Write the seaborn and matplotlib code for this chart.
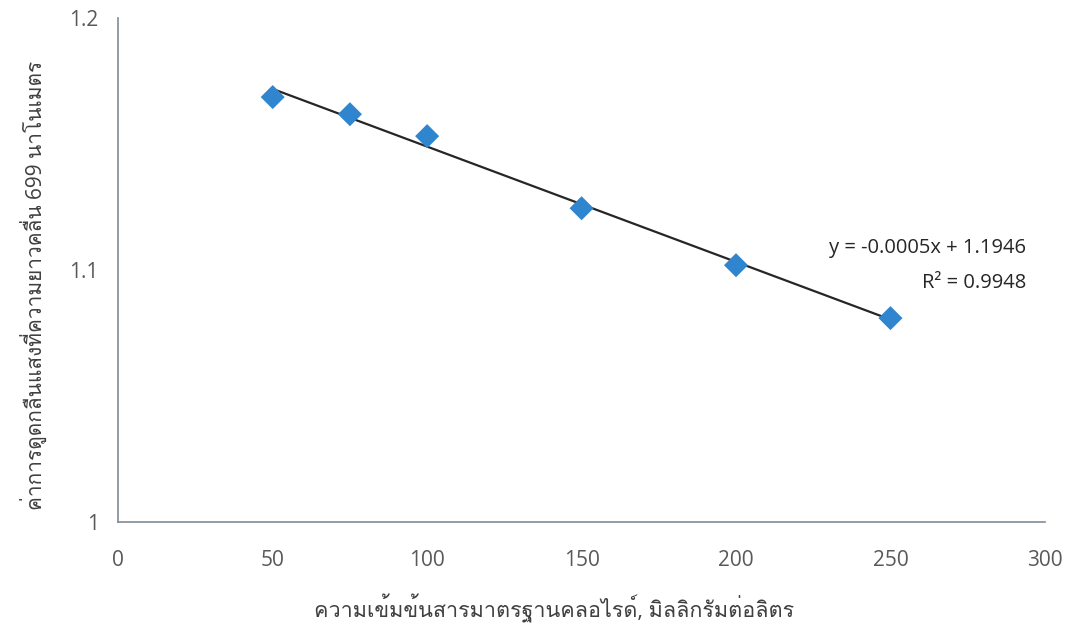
import seaborn as sns
import matplotlib.pyplot as plt
import matplotlib.font_manager as fm
import pandas as pd
import numpy as np
from fontTools.ttLib import TTFont

conc = [50, 75, 100, 150, 200, 250]
absorb = [1.1687, 1.1619, 1.1532, 1.1246, 1.1020, 1.0810]
x_ticks = [0, 50, 100, 150, 200, 250, 300]
y_ticks = [1.0, 1.1, 1.2]
y_tick_labels = ['1', '1.1', '1.2']
x_label = 'ความเข้มข้นสารมาตรฐานคลอไรด์, มิลลิกรัมต่อลิตร'
y_label = 'ค่าการดูดกลืนแสงที่ความยาวคลื่น 699 นาโนเมตร'

df = pd.DataFrame({'conc': conc, 'abs': absorb})

# find an installed font that has thai glyphs
thai_font = None
for f in fm.fontManager.ttflist:
    try:
        font = TTFont(f.fname, fontNumber=0, lazy=True)
        if 0x0E01 in font.getBestCmap():
            thai_font = f.name
            break
    except Exception:
        pass

sns.set_style('white')
fams = ['Open Sans', 'DejaVu Sans']
if thai_font:
    fams = ['Open Sans', thai_font, 'DejaVu Sans']
plt.rcParams['font.family'] = fams

fig = plt.figure(figsize=(10.75, 6.27), dpi=100)
ax = fig.add_axes([0.110, 0.167, 0.862, 0.804])

sns.regplot(data=df, x='conc', y='abs', scatter=False, ci=None,
            line_kws={'color': '#262626', 'linewidth': 1.6}, ax=ax)
sns.scatterplot(data=df, x='conc', y='abs', marker='D', s=150,
                color='#2f86cf', edgecolor='none', zorder=3, ax=ax)

ax.text(0.980, 0.545, 'y = -0.0005x + 1.1946', transform=ax.transAxes,
        ha='right', va='center', fontsize=14.5, color='#262626')
ax.text(0.980, 0.474, 'R² = 0.9948', transform=ax.transAxes,
        ha='right', va='center', fontsize=14.5, color='#262626')

ax.set_xlim(0, 300)
ax.set_ylim(1.0, 1.2)
ax.set_xticks(x_ticks)
ax.set_yticks(y_ticks)
ax.set_yticklabels(y_tick_labels)
ax.tick_params(length=0, labelsize=15, labelcolor='#595959')
ax.tick_params(axis='x', pad=20)
ax.tick_params(axis='y', pad=14)
ax.set_xlabel(x_label, fontsize=15.5, color='#404040', va='center')
ax.set_ylabel(y_label, fontsize=15, color='#404040', va='center')
ax.xaxis.set_label_coords(0.47, -0.17)
ax.yaxis.set_label_coords(-0.09, 0.47)

for s in ['top', 'right']:
    ax.spines[s].set_visible(False)
for s in ['left', 'bottom']:
    ax.spines[s].set_color('#7f8c99')
    ax.spines[s].set_linewidth(1.2)

plt.savefig('out.png', dpi=100)
